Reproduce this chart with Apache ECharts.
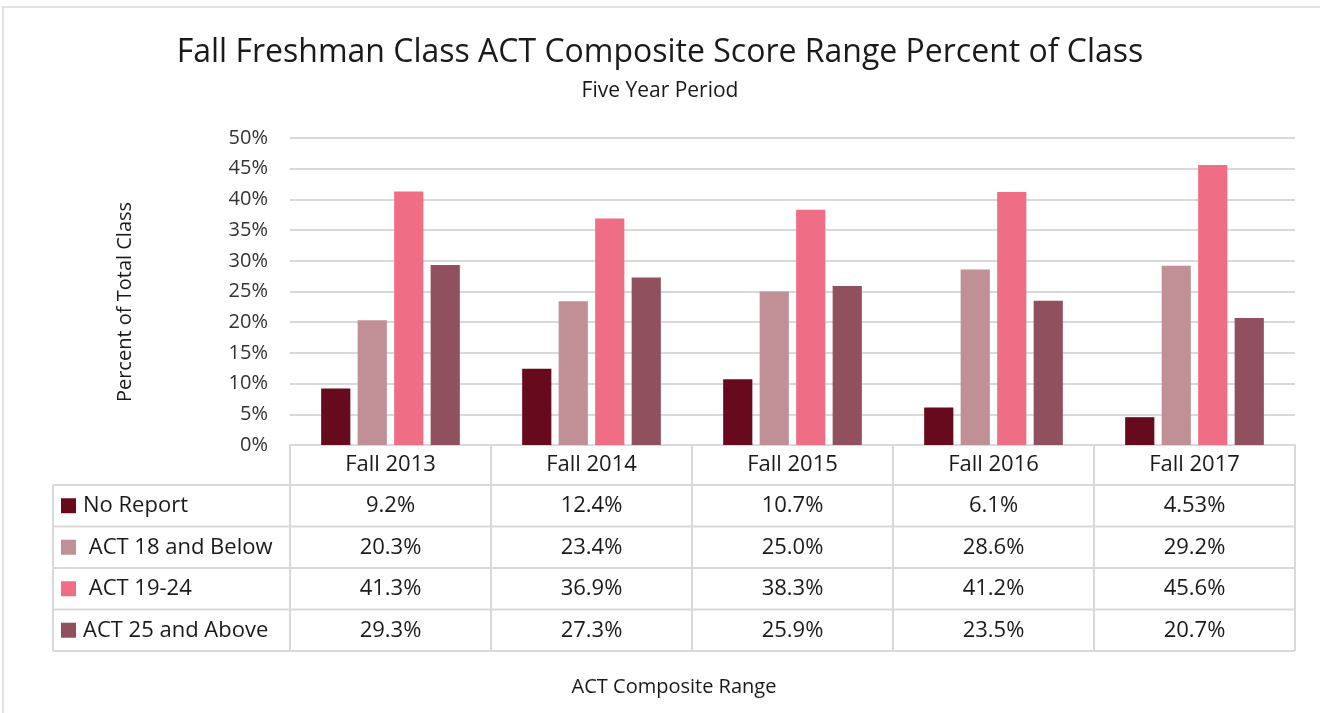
<!DOCTYPE html>
<html>
<head>
<meta charset="utf-8">
<title>Fall Freshman Class ACT Composite Score Range</title>
<script src="https://cdn.jsdelivr.net/npm/echarts@6/dist/echarts.min.js"></script>
<style>
  html, body { margin: 0; padding: 0; background: #fff; }
  #main { width: 1320px; height: 713px; }
</style>
</head>
<body>
<div id="main"></div>
<script>
  // data
  const years = ['Fall 2013', 'Fall 2014', 'Fall 2015', 'Fall 2016', 'Fall 2017'];
  const seriesNames = ['No Report', ' ACT 18 and Below', ' ACT 19-24', 'ACT 25 and Above'];
  const noReport = [9.2, 12.4, 10.7, 6.1, 4.53];
  const act18Below = [20.3, 23.4, 25.0, 28.6, 29.2];
  const act19to24 = [41.3, 36.9, 38.3, 41.2, 45.6];
  const act25Above = [29.3, 27.3, 25.9, 23.5, 20.7];
  const colors = ['#680a1e', '#c09096', '#f06e85', '#91505e'];

  const allSeries = [noReport, act18Below, act19to24, act25Above];
  const FONT = '"Open Sans", sans-serif';
  const gridColor = '#d9d9d9';
  const textColor = '#1a1a1a';

  function fmt(v) {
    const s = String(v);
    return (s.indexOf('.') >= 0 ? s : v.toFixed(1)) + '%';
  }

  const chart = echarts.init(document.getElementById('main'));

  const option = {
    animation: false,
    title: {
      text: 'Fall Freshman Class ACT Composite Score Range Percent of Class',
      subtext: 'Five Year Period',
      left: 'center',
      top: 32,
      itemGap: 12,
      textStyle: { fontFamily: FONT, fontSize: 32, fontWeight: 'normal', color: textColor },
      subtextStyle: { fontFamily: FONT, fontSize: 21, color: textColor }
    },
    grid: { left: 290, right: 25, top: 138, bottom: 268 },
    xAxis: {
      type: 'category',
      data: years,
      axisLine: { show: true, lineStyle: { color: gridColor, width: 2 } },
      axisTick: { show: false },
      axisLabel: {
        margin: 9,
        fontFamily: FONT, fontSize: 22, color: textColor
      }
    },
    yAxis: {
      type: 'value',
      min: 0, max: 50, interval: 5,
      axisLabel: {
        formatter: '{value}%',
        margin: 22,
        fontFamily: FONT, fontSize: 20, color: '#333'
      },
      axisLine: { show: false },
      axisTick: { show: false },
      splitLine: { lineStyle: { color: gridColor, width: 2 } }
    },
    series: allSeries.map(function (vals, i) {
      return {
        name: seriesNames[i].trim(),
        type: 'bar',
        data: vals,
        barGap: '25%',
        barCategoryGap: '31%',
        itemStyle: { color: colors[i] }
      };
    })
  };

  chart.setOption(option);

  // data table under the plot, placed from the category axis
  const graphics = [];
  const centers = years.map(function (y, i) { return chart.convertToPixel({ xAxisIndex: 0 }, i); });
  const step = centers.length > 1 ? centers[1] - centers[0] : 200;
  const tableLeft = 53;
  const colLeft = centers[0] - step / 2;
  const colRight = centers[centers.length - 1] + step / 2;
  const headTop = chart.convertToPixel({ yAxisIndex: 0 }, 0);
  const headH = 40;
  const rowH = 41.5;
  const bodyTop = headTop + headH;
  const tableBottom = bodyTop + rowH * seriesNames.length;
  const lineStyle = { stroke: gridColor, lineWidth: 2 };

  // outer frame of the chart
  graphics.push({ type: 'rect', shape: { x: 3, y: 7, width: 1340, height: 730 }, style: { fill: null, stroke: '#d9d9d9', lineWidth: 1.5 }, silent: true });

  // vertical lines
  graphics.push({ type: 'line', shape: { x1: tableLeft, y1: bodyTop, x2: tableLeft, y2: tableBottom }, style: lineStyle });
  for (let i = 0; i <= years.length; i++) {
    const x = colLeft + step * i;
    graphics.push({ type: 'line', shape: { x1: x, y1: headTop, x2: x, y2: tableBottom }, style: lineStyle });
  }
  // horizontal lines
  for (let r = 0; r <= seriesNames.length; r++) {
    const y = bodyTop + rowH * r;
    graphics.push({ type: 'line', shape: { x1: tableLeft, y1: y, x2: colRight, y2: y }, style: lineStyle });
  }

  seriesNames.forEach(function (name, r) {
    const cy = bodyTop + rowH * r + rowH / 2;
    graphics.push({ type: 'rect', shape: { x: 61, y: cy - 7.5, width: 15, height: 15 }, style: { fill: colors[r] } });
    graphics.push({
      type: 'text', x: 83, y: cy,
      style: { text: name, fontFamily: FONT, fontSize: 22, fill: textColor, textAlign: 'left', textVerticalAlign: 'middle' }
    });
    allSeries[r].forEach(function (v, c) {
      graphics.push({
        type: 'text', x: centers[c], y: cy,
        style: { text: fmt(v), fontFamily: FONT, fontSize: 22, fill: textColor, textAlign: 'center', textVerticalAlign: 'middle' }
      });
    });
  });

  // axis titles
  graphics.push({
    type: 'text', x: 125, y: 302, rotation: Math.PI / 2,
    style: { text: 'Percent of Total Class', fontFamily: FONT, fontSize: 20, fill: textColor, textAlign: 'center', textVerticalAlign: 'middle' }
  });
  graphics.push({
    type: 'text', x: (tableLeft + colRight) / 2, y: 687,
    style: { text: 'ACT Composite Range', fontFamily: FONT, fontSize: 20, fill: textColor, textAlign: 'center', textVerticalAlign: 'middle' }
  });

  chart.setOption({ graphic: graphics });
</script>
</body>
</html>
